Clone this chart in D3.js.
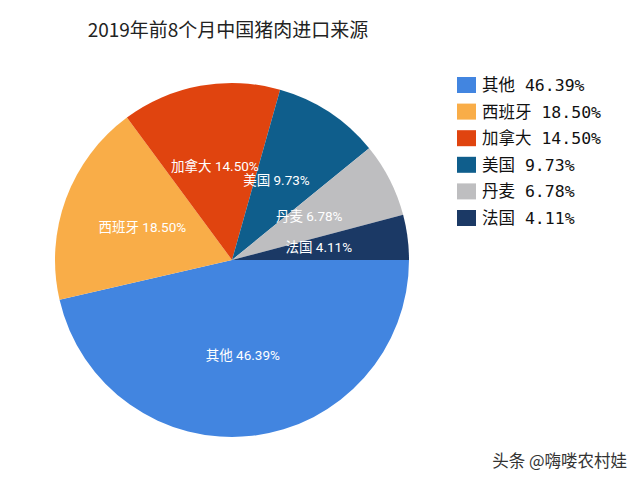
<!DOCTYPE html>
<html><head><meta charset="utf-8">
<script src="https://cdn.jsdelivr.net/npm/d3@7"></script>
<style>body{margin:0;background:#fff}svg{display:block}</style>
</head><body>
<svg id="chart" width="640" height="484"></svg>
<script>
const categories = ["其他","西班牙","加拿大","美国","丹麦","法国"];
const values = [46.39, 18.50, 14.50, 9.73, 6.78, 4.11];
const colors = ["#4285E0","#F9AD48","#E0440F","#0F5E8C","#BEBEC0","#1B3965"];
const title = "2019年前8个月中国猪肉进口来源";
const watermark = "头条 @嗨喽农村娃";

const svg = d3.select("#chart");
const data = categories.map((c,i)=>({name:c, value:values[i], color:colors[i]}));
const cx = 232, cy = 260, R = 177;

const pie = d3.pie().value(d=>d.value).sort(null)
  .startAngle(Math.PI/2).endAngle(Math.PI/2 + 2*Math.PI);
const arc = d3.arc().innerRadius(0).outerRadius(R);
const labelArc = d3.arc().innerRadius(R*0.54).outerRadius(R*0.54);
const arcs = pie(data);

const g = svg.append("g").attr("transform",`translate(${cx},${cy})`);
g.selectAll("path").data(arcs).enter().append("path")
  .attr("d", arc).attr("fill", d=>d.data.color);

const fmt = d3.format(".2f");
g.selectAll("text.lbl").data(arcs).enter().append("text")
  .attr("class","lbl")
  .attr("transform", d=>{const [x,y]=labelArc.centroid(d); const dx = d.data.value<10 ? -8 : 0; return `translate(${x+dx},${y})`;})
  .attr("text-anchor","middle").attr("dy","0.35em")
  .attr("fill","#fff").attr("font-size","13.5px")
  .attr("font-family","Roboto,'Noto Sans CJK SC', sans-serif")
  .text(d=>`${d.data.name} ${fmt(d.data.value)}%`);

svg.append("text").attr("x",228).attr("y",37).attr("text-anchor","middle")
  .attr("font-size","19px").attr("fill","#222")
  .attr("font-family","'Noto Sans CJK SC', sans-serif")
  .text(title);

const leg = svg.append("g").attr("transform","translate(457,85)");
const rows = leg.selectAll("g").data(data).enter().append("g")
  .attr("transform",(d,i)=>`translate(0,${i*26.6})`);
rows.append("rect").attr("x",0).attr("y",-8).attr("width",19).attr("height",16)
  .attr("fill",d=>d.color);
rows.append("text").attr("x",25).attr("dy","0.36em")
  .attr("font-size","16.5px").attr("fill","#111")
  .attr("font-family","'DejaVu Sans Mono','Noto Sans CJK SC', monospace")
  .text(d=>`${d.name} ${fmt(d.value)}%`);

svg.append("text").attr("x",627).attr("y",467).attr("text-anchor","end")
  .attr("font-size","16.5px").attr("fill","#333")
  .attr("font-family","'Noto Sans CJK SC', sans-serif")
  .text(watermark);
</script>
</body></html>
